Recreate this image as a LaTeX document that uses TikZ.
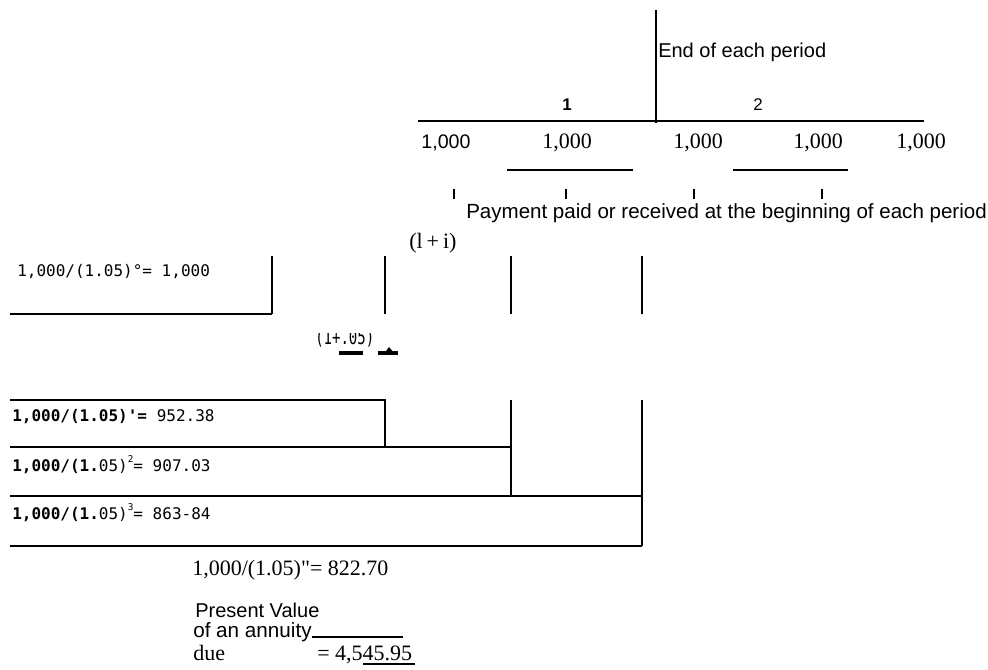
\documentclass[tikz,border=0pt]{standalone}
\usepackage{fontspec}
\setmainfont{Liberation Serif}
\newfontfamily\arialf{Liberation Sans}
\newfontfamily\tmsf{Liberation Serif}
\newfontfamily\monof{DejaVu Sans Mono}
\begin{document}
\begin{tikzpicture}[x=0.75pt,y=-0.75pt,
  sanst/.style={font=\arialf\fontsize{15}{18}\selectfont, inner sep=0pt, anchor=base west},
  serift/.style={font=\tmsf\fontsize{16.5}{19}\selectfont, inner sep=0pt, anchor=base west},
  numt/.style={font=\tmsf\fontsize{16.5}{19}\selectfont, inner sep=0pt, anchor=base},
  monot/.style={font=\monof\fontsize{12}{14}\selectfont, inner sep=0pt, anchor=base west},
  rule/.style={line width=1.5pt},
  thinrule/.style={line width=0.8pt},
  tickmark/.style={line width=1.6pt}]
\useasboundingbox (0,0) rectangle (988,669);
% top time line
\coordinate (vtop) at (656,10); \coordinate (vbot) at (656,123);
\draw[rule] (vtop) -- (vbot);
\node[sanst] (endp) at (658,57) {End of each period};
\node[font=\arialf\bfseries\fontsize{12.7}{14}\selectfont, inner sep=0pt, anchor=base] (per1) at (567,110) {1};
\node[font=\arialf\fontsize{12.7}{14}\selectfont, inner sep=0pt, anchor=base] (per2) at (758,110) {2};
\coordinate (hl) at (418,121); \coordinate (hr) at (924,121);
\draw[line width=1.3pt] (hl) -- (hr);
\node[font=\arialf\fontsize{14.7}{17}\selectfont, inner sep=0pt, anchor=base] (k0) at (446,148) {1,000};
\node[numt] (k1) at (567,148) {1,000};
\node[numt] (k2) at (698,148) {1,000};
\node[numt] (k3) at (818,148) {1,000};
\node[numt] (k4) at (921,148) {1,000};
\coordinate (s1a) at (507,170); \coordinate (s1b) at (633,170);
\coordinate (s2a) at (733,170); \coordinate (s2b) at (848,170);
\draw[thinrule] (s1a) -- (s1b);
\draw[thinrule] (s2a) -- (s2b);
\foreach \x/\n in {454/a,566/b,694/c,822/d}{
  \coordinate (t\n1) at (\x,189); \coordinate (t\n2) at (\x,199);
  \draw[tickmark] (t\n1) -- (t\n2);
}
\node[font=\arialf\fontsize{15.4}{18}\selectfont, inner sep=0pt, anchor=base west] (pay) at (466,218) {Payment paid or received at the beginning of each period};
\node[serift] (onei) at (409,248) {(l\hspace{3pt}+\hspace{3pt}i)};
% first box
\foreach \x/\n in {272/a,385/b,511/c,642/d}{
  \coordinate (u\n1) at (\x,256); \coordinate (u\n2) at (\x,314);
  \draw[rule] (u\n1) -- (u\n2);
}
\coordinate (b0l) at (10,314);
\draw[rule] (b0l) -- (ua2);
\node[monot] (f0) at (17,276) {1,000/(1.05)°= 1,000};
% garbled fragment (upper part cut away)
\begin{scope}
  \clip (300,333) rectangle (400,346);
  \node[font=\monof\fontsize{15}{16}\selectfont, inner sep=0pt, anchor=base west] (garb) at (315,344) {\scalebox{0.7}[1]{(1+.05)}};
\end{scope}
\coordinate (d1a) at (339,353); \coordinate (d1b) at (363,353);
\coordinate (d2a) at (378,353); \coordinate (d2b) at (398,353);
\draw[line width=2.4pt] (d1a) -- (d1b);
\draw[line width=2.4pt] (d2a) -- (d2b);
\coordinate (bl1) at (384,354); \coordinate (bl2) at (389,347); \coordinate (bl3) at (395,354);
\fill (bl1) -- (bl2) -- (bl3) -- cycle;
% lower boxes
\coordinate (r1l) at (10,400); \coordinate (r1r) at (385,400);
\coordinate (r2l) at (10,447); \coordinate (r2r) at (511,447);
\coordinate (r3l) at (10,496); \coordinate (r3r) at (642,496);
\coordinate (r4l) at (10,546); \coordinate (r4r) at (642,546);
\coordinate (c1t) at (511,400); \coordinate (c2t) at (642,400);
\coordinate (c0b) at (385,447); \coordinate (c1b) at (511,496);
\draw[rule] (r1l) -- (r1r) -- (c0b);
\draw[rule] (r2l) -- (r2r);
\draw[rule] (c1t) -- (c1b);
\draw[rule] (r3l) -- (r3r);
\draw[rule] (c2t) -- (r4r);
\draw[rule] (r4l) -- (r4r);
\node[monot] (f1) at (12,421) {{\bfseries 1,000/(1.05)'=} 952.38};
\node[monot] (f2) at (12,471) {{\bfseries 1,000/(1.}05)\raisebox{0.55em}{\fontsize{7}{7}\selectfont 2}= 907.03};
\node[monot] (f3) at (12,519) {{\bfseries 1,000/(1.}05)\raisebox{0.55em}{\fontsize{7}{7}\selectfont 3}= 863-84};
% bottom
\node[serift] (f4) at (192,575) {1,000/(1.05)"= 822.70};
\node[sanst] (pv1) at (195,617) {Present Value};
\node[font=\arialf\fontsize{15.5}{18}\selectfont, inner sep=0pt, anchor=base west] (pv2) at (193,637) {of an annuity};
\coordinate (u1a) at (312,637); \coordinate (u1b) at (403,637);
\draw[thinrule] (u1a) -- (u1b);
\node[serift] (due) at (193,660) {due};
\node[serift] (tot) at (317,660) {= 4,545.95};
\coordinate (u2a) at (363,664); \coordinate (u2b) at (415,664);
\draw[thinrule] (u2a) -- (u2b);
\end{tikzpicture}
\end{document}
